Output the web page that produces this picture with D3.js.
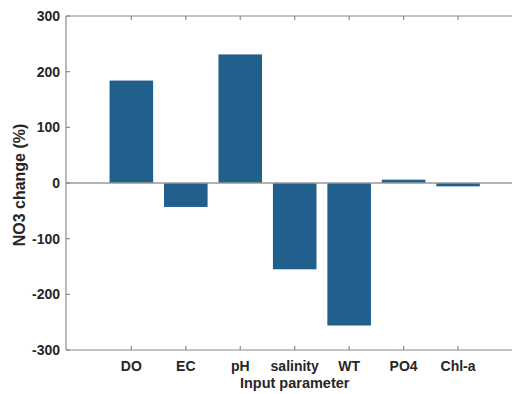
<!DOCTYPE html>
<html>
<head>
<meta charset="utf-8">
<script src="https://cdn.jsdelivr.net/npm/d3@7"></script>
<style>
  body { margin: 0; background: #fff; }
  svg text { font-family: "Liberation Sans", Arial, sans-serif; font-weight: bold; fill: #262626; }
</style>
</head>
<body>
<div id="chart"></div>
<script>
// data
const categories = ["DO", "EC", "pH", "salinity", "WT", "PO4", "Chl-a"];
const changes = [184, -43, 231, -155, -256, 6, -6];
const yTicks = [-300, -200, -100, 0, 100, 200, 300];

const W = 512, H = 394;
const margin = { left: 66, top: 16, bottom: 44 };
const plotBottom = H - margin.bottom;

const svg = d3.select('#chart').append('svg')
    .attr('width', W).attr('height', H);

// x in MATLAB style numeric positions 1..7
const x = d3.scaleLinear().domain([-0.2, 8.2]).range([margin.left, 523.4]);
const y = d3.scaleLinear().domain([-300, 300]).range([plotBottom, margin.top]);
const barW = x(0.8) - x(0);
const axisColor = '#8a8a8a';

// bars
svg.append('g').selectAll('rect')
    .data(changes)
    .join('rect')
    .attr('x', (d, i) => x(i + 1) - barW / 2)
    .attr('width', barW)
    .attr('y', d => y(Math.max(0, d)))
    .attr('height', d => Math.abs(y(d) - y(0)))
    .attr('fill', '#215f8d');

// baseline at zero
svg.append('line')
    .attr('x1', x(-0.2)).attr('x2', x(8.2))
    .attr('y1', y(0)).attr('y2', y(0))
    .attr('stroke', '#999').attr('stroke-width', 1.5);

// box
const box = svg.append('g').attr('stroke', axisColor).attr('stroke-width', 1.2).attr('fill', 'none');
box.append('line').attr('x1', margin.left).attr('x2', W).attr('y1', margin.top).attr('y2', margin.top);
box.append('line').attr('x1', margin.left).attr('x2', W).attr('y1', plotBottom).attr('y2', plotBottom);
box.append('line').attr('x1', margin.left).attr('x2', margin.left).attr('y1', margin.top).attr('y2', plotBottom);

// x ticks, inward on top and bottom
const xt = svg.append('g').attr('stroke', axisColor).attr('stroke-width', 1.2);
categories.forEach((c, i) => {
    xt.append('line').attr('x1', x(i + 1)).attr('x2', x(i + 1))
      .attr('y1', margin.top).attr('y2', margin.top + 4);
    xt.append('line').attr('x1', x(i + 1)).attr('x2', x(i + 1))
      .attr('y1', plotBottom).attr('y2', plotBottom - 4);
});

// y ticks, inward
const yt = svg.append('g').attr('stroke', axisColor).attr('stroke-width', 1.2);
yTicks.forEach(t => {
    yt.append('line').attr('x1', margin.left).attr('x2', margin.left + 4)
      .attr('y1', y(t)).attr('y2', y(t));
});

// tick labels
svg.append('g').selectAll('text')
    .data(categories)
    .join('text')
    .attr('x', (d, i) => x(i + 1))
    .attr('y', 371)
    .attr('text-anchor', 'middle')
    .attr('font-size', 14)
    .text(d => d);

svg.append('g').selectAll('text')
    .data(yTicks)
    .join('text')
    .attr('x', 60)
    .attr('y', d => y(d))
    .attr('dy', '0.35em')
    .attr('text-anchor', 'end')
    .attr('font-size', 14)
    .text(d => d);

// axis titles
svg.append('text')
    .attr('x', x(4)).attr('y', 388)
    .attr('text-anchor', 'middle')
    .attr('font-size', 14.5)
    .text('Input parameter');

svg.append('text')
    .attr('transform', 'translate(25,' + (y(0) + 2) + ') rotate(-90)')
    .attr('text-anchor', 'middle')
    .attr('font-size', 16)
    .text('NO3 change (%)');
</script>
</body>
</html>
